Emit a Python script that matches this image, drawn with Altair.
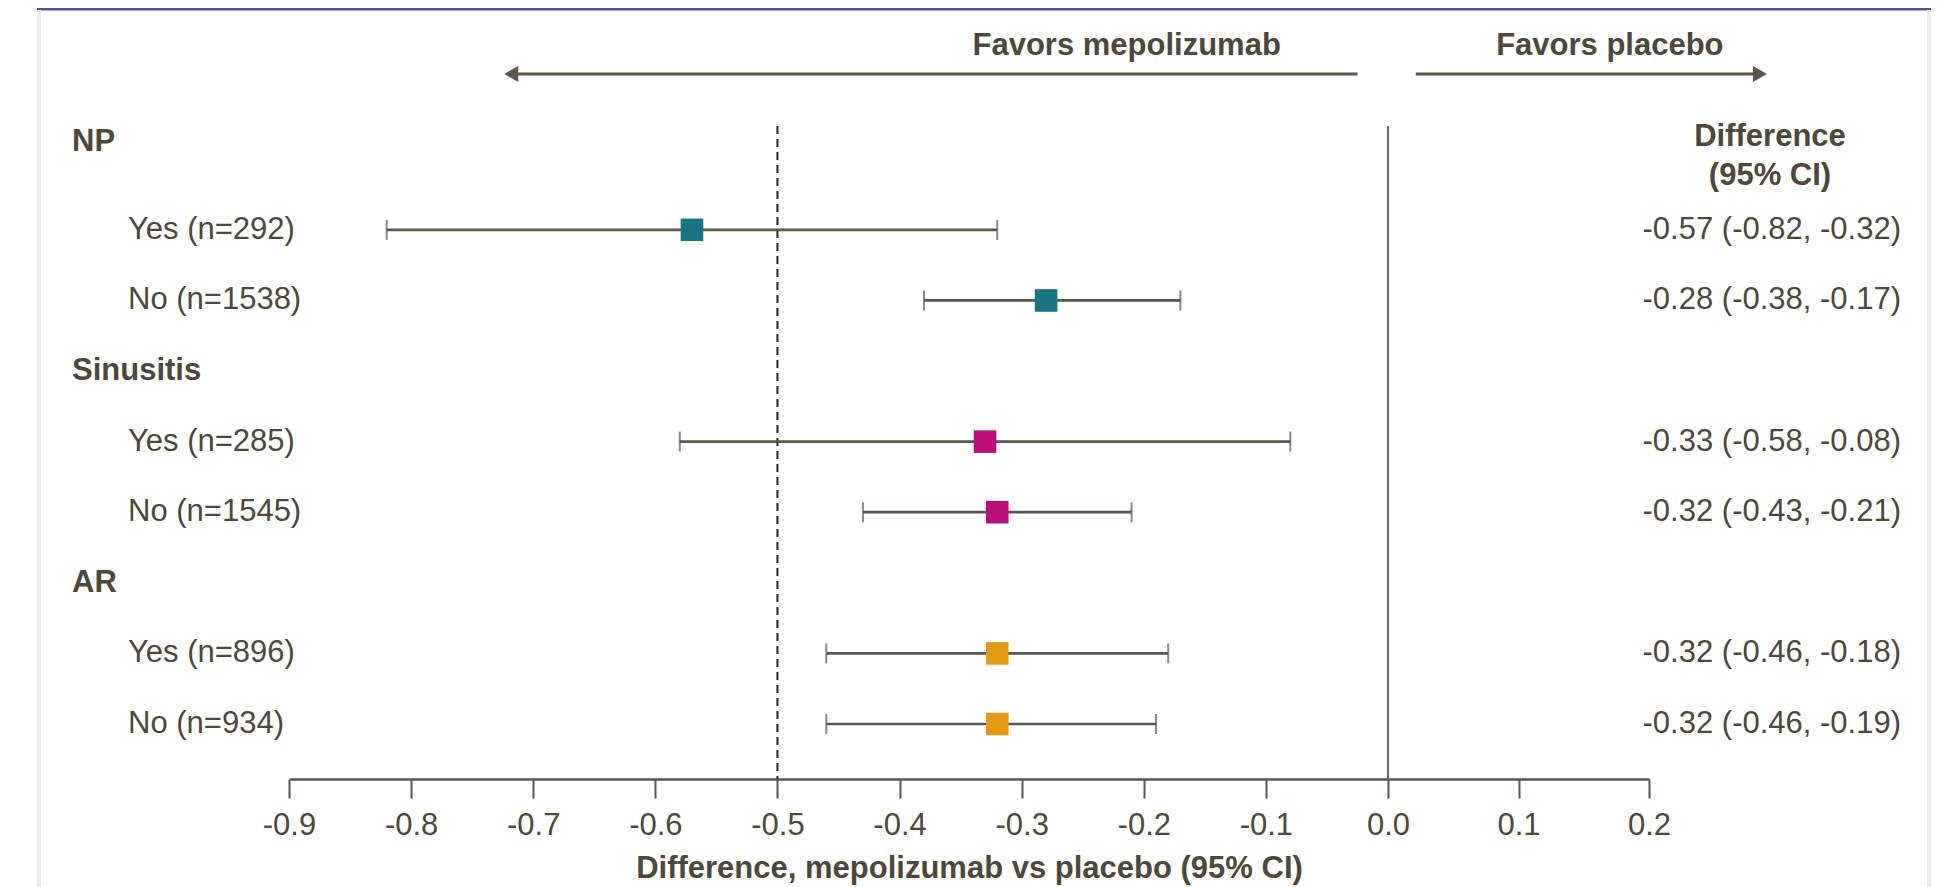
import altair as alt
import pandas as pd

# ---------------- data ----------------
groups = ["NP", "Sinusitis", "AR"]
group_rows = [-0.25, 3, 6]

sub_group = ["NP", "NP", "Sinusitis", "Sinusitis", "AR", "AR"]
sub_labels = ["Yes (n=292)", "No (n=1538)", "Yes (n=285)", "No (n=1545)", "Yes (n=896)", "No (n=934)"]
sub_rows = [1, 2, 4, 5, 7, 8]
diff = [-0.57, -0.28, -0.33, -0.32, -0.32, -0.32]
ci_lo = [-0.82, -0.38, -0.58, -0.43, -0.46, -0.46]
ci_hi = [-0.32, -0.17, -0.08, -0.21, -0.18, -0.19]

tick_values = [-0.9, -0.8, -0.7, -0.6, -0.5, -0.4, -0.3, -0.2, -0.1, 0.0, 0.1, 0.2]
ref_dashed = [-0.5]
ref_solid = [0.0]

favor_text = ["Favors mepolizumab", "Favors placebo"]
favor_x = [-0.214, 0.170]
arrow_from = [-0.025, 0.0213]
arrow_to = [-0.718, 0.285]
arrow_shape = ["triangle-left", "triangle-right"]

group_colors = ["#177583", "#BC0E7B", "#E59A13"]

# ---------------- styling ----------------
FONT = "Liberation Sans"
TXT = "#4d4838"
BAR = "#5b574a"
FS = 31
W, H = 1360, 653

df = pd.DataFrame({
    "group": sub_group, "label": sub_labels, "row": sub_rows,
    "diff": diff, "lo": ci_lo, "hi": ci_hi,
})
df["ci_text"] = [f"{d:.2f} ({l:.2f}, {h:.2f})" for d, l, h in zip(diff, ci_lo, ci_hi)]
hdr = pd.DataFrame({"group": groups, "row": group_rows})
ann = pd.DataFrame({"text": favor_text, "tx": favor_x, "a0": arrow_from,
                    "a1": arrow_to, "shape": arrow_shape})
dummy = pd.DataFrame({"a": [0]})

xs = alt.Scale(domain=[-0.9, 0.0, 0.2], range=[0, 1099, W], nice=False, zero=False)
ys = alt.Scale(domain=[-0.471, 8.779], range=[0, H], nice=False, zero=False)
xaxis = alt.Axis(
    values=tick_values, title="Difference, mepolizumab vs placebo (95% CI)",
    labelExpr="replace(format(datum.value, '.1f'), '\u2212', '-')",
    grid=False, tickSize=19, tickWidth=2, tickColor=BAR, domainColor=BAR, domainWidth=2.5,
    labelFont=FONT, labelFontSize=FS, labelColor=TXT, labelPadding=12,
    labelOverlap=False, labelFlush=False,
    titleFont=FONT, titleFontSize=FS, titleFontWeight="bold", titleColor=TXT, titlePadding=13,
)

def X(field):
    return alt.X(field, type="quantitative", scale=xs, axis=xaxis)

def Y(field):
    return alt.Y(field, type="quantitative", scale=ys, axis=None)

# frame
frame_top = alt.Chart(dummy).mark_rule(color="#4a52a0", strokeWidth=3).encode(
    x=alt.value(-252), x2=alt.value(1642), y=alt.value(-117))
frame_left = alt.Chart(dummy).mark_rule(color="#ededed", strokeWidth=4).encode(
    x=alt.value(-250), y=alt.value(-116), y2=alt.value(H + 130))
frame_right = alt.Chart(dummy).mark_rule(color="#ededed", strokeWidth=4).encode(
    x=alt.value(1640), y=alt.value(-116), y2=alt.value(H + 130))

dashed = alt.Chart(pd.DataFrame({"x": ref_dashed})).mark_rule(
    color="#222222", strokeWidth=2, strokeDash=[8, 5]).encode(
    x=X("x"), y=alt.value(0), y2=alt.value(H))
solid = alt.Chart(pd.DataFrame({"x": ref_solid})).mark_rule(
    color="#6d6a60", strokeWidth=2).encode(
    x=X("x"), y=alt.value(0), y2=alt.value(H))

bars = alt.Chart(df).mark_rule(color=BAR, strokeWidth=2.7).encode(
    x=X("lo"), x2="hi", y=Y("row"))
caps = alt.Chart(df).transform_fold(["lo", "hi"], as_=["end", "endval"]).mark_tick(
    orient="vertical", size=20, thickness=2, color=BAR).encode(
    x=X("endval"), y=Y("row"))
squares = alt.Chart(df).mark_square(size=510, opacity=1, filled=True).encode(
    x=X("diff"), y=Y("row"),
    color=alt.Color("group:N", scale=alt.Scale(domain=groups, range=group_colors), legend=None))

sub_text = alt.Chart(df).mark_text(
    align="left", baseline="middle", font=FONT, fontSize=FS, color=TXT).encode(
    x=alt.value(-161), y=Y("row"), text="label:N")
hdr_text = alt.Chart(hdr).mark_text(
    align="left", baseline="middle", font=FONT, fontSize=FS, fontWeight="bold", color=TXT).encode(
    x=alt.value(-217), y=Y("row"), text="group:N")
ci_text = alt.Chart(df).mark_text(
    align="right", baseline="middle", font=FONT, fontSize=FS, color=TXT).encode(
    x=alt.value(1612), y=Y("row"), text="ci_text:N")
diff_hdr1 = alt.Chart(dummy).mark_text(
    text="Difference", align="center", baseline="middle", font=FONT, fontSize=FS,
    fontWeight="bold", color=TXT).encode(x=alt.value(1481), y=alt.value(11))
diff_hdr2 = alt.Chart(dummy).mark_text(
    text="(95% CI)", align="center", baseline="middle", font=FONT, fontSize=FS,
    fontWeight="bold", color=TXT).encode(x=alt.value(1481), y=alt.value(50))

favors = alt.Chart(ann).mark_text(
    align="center", baseline="middle", font=FONT, fontSize=FS, fontWeight="bold", color=TXT).encode(
    x=X("tx"), y=alt.value(-80), text="text:N")
arrows = alt.Chart(ann).mark_rule(color=BAR, strokeWidth=3).encode(
    x=X("a0"), x2="a1", y=alt.value(-52))
heads = alt.Chart(ann).mark_point(filled=True, opacity=1, size=260, color=BAR).encode(
    x=X("a1"), y=alt.value(-52), shape=alt.Shape("shape:N", scale=None))

chart = alt.layer(
    frame_top, frame_left, frame_right,
    dashed, solid, bars, caps, squares,
    sub_text, hdr_text, ci_text, diff_hdr1, diff_hdr2,
    favors, arrows, heads,
).properties(
    width=W, height=H,
    autosize=alt.AutoSizeParams(type="none"),
    padding={"left": 281, "top": 118, "right": 283, "bottom": 130},
    background="white",
).configure_view(strokeWidth=0)

chart.save("out.html", embed_options={"renderer": "svg", "actions": False})
